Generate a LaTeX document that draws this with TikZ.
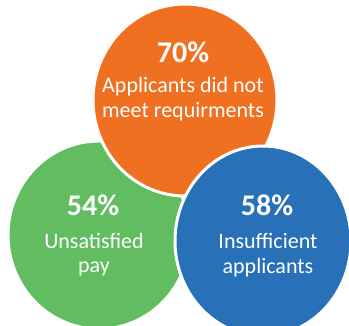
\documentclass[tikz,border=0pt]{standalone}
\usepackage{fontspec}
\setmainfont{Carlito}
\usepackage{xcolor}
\definecolor{reqorange}{HTML}{F07021}
\definecolor{paygreen}{HTML}{62BD60}
\definecolor{appblue}{HTML}{2870B7}
\tikzset{
	bubble/.style={draw=white, line width=3pt},
	pctlabel/.style={text=white, anchor=base, inner sep=0pt,
			font=\bfseries\fontsize{30}{36}\selectfont},
	capline/.style={text=white, anchor=base, inner sep=0pt,
			font=\fontsize{22}{26}\selectfont}
}

\begin{document}
\begin{tikzpicture}[x=1pt, y=-1pt]

			\useasboundingbox (0,0) rectangle (349,325);

			% Draw the three bubbles, back to front
			\draw[bubble, fill=paygreen] (99,235) ellipse [x radius=91pt, y radius=94pt];
			\draw[bubble, fill=reqorange] (185,100) ellipse [x radius=92pt, y radius=96pt];
			\draw[bubble, fill=appblue] (263,241) ellipse [x radius=88pt, y radius=95pt];

			% Top bubble labels
			\node[pctlabel] (reqpct) at (183,62) {70\%};
			\node[capline] (reqline1) at (183,92) {Applicants did not};
			\node[capline] (reqline2) at (183,117) {meet requirments};

			% Left bubble labels
			\node[pctlabel] (paypct) at (93,215) {54\%};
			\node[capline] (payline1) at (94,248) {Unsatisfied};
			\node[capline] (payline2) at (94,272) {pay};

			% Right bubble labels
			\node[pctlabel] (apppct) at (267,215) {58\%};
			\node[capline] (appline1) at (268,248) {Insufficient};
			\node[capline] (appline2) at (268,273) {applicants};

		\end{tikzpicture}
\end{document}
